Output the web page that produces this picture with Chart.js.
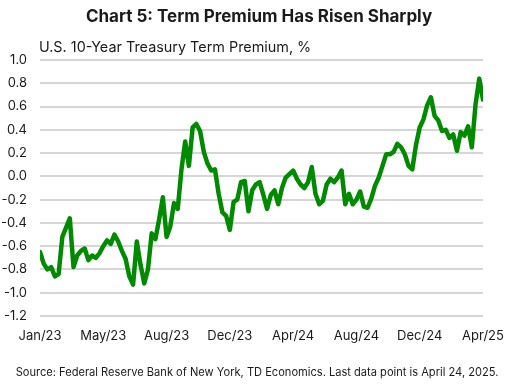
<!DOCTYPE html>
<html>
<head>
<meta charset="utf-8">
<script src="https://cdn.jsdelivr.net/npm/chart.js@4"></script>
<style>
  html, body { margin: 0; padding: 0; background: #fff; }
  #wrap { width: 517px; height: 386px; position: relative; }
</style>
</head>
<body>
<div id="wrap"><canvas id="tpChart" width="517" height="386"></canvas></div>
<script>
// Chart text
const titleText = "Chart 5: Term Premium Has Risen Sharply";
const subtitleText = "U.S. 10-Year Treasury Term Premium, %";
const sourceText = "Source: Federal Reserve Bank of New York, TD Economics. Last data point is April 24, 2025.";

// x axis: weekly observations, a label every 17 weeks
const tickLabels = ["Jan/23","May/23","Aug/23","Dec/23","Apr/24","Aug/24","Dec/24","Apr/25"];
const tickEvery = 17;

// 10-year term premium, % (roughly weekly)
const termPremium = [
  -0.65,-0.75,-0.80,-0.78,-0.86,-0.84,-0.52,-0.44,-0.36,-0.78,
  -0.68,-0.64,-0.62,-0.72,-0.68,-0.70,-0.66,-0.60,-0.55,-0.58,
  -0.50,-0.56,-0.64,-0.71,-0.86,-0.93,-0.56,-0.76,-0.92,-0.80,
  -0.49,-0.54,-0.37,-0.18,-0.52,-0.43,-0.23,-0.28, 0.06, 0.30,
   0.09, 0.42, 0.45, 0.39, 0.21, 0.11, 0.05, 0.06,-0.15,-0.31,
  -0.34,-0.46,-0.22,-0.20,-0.05,-0.04,-0.30,-0.12,-0.07,-0.05,
  -0.16,-0.28,-0.16,-0.12,-0.24,-0.10,-0.01, 0.02, 0.05,-0.02,
  -0.07,-0.10,-0.05, 0.08,-0.15,-0.24,-0.21,-0.07,-0.02,-0.05,
  -0.01, 0.05,-0.24,-0.15,-0.24,-0.20,-0.13,-0.26,-0.27,-0.19,
  -0.08,-0.01, 0.09, 0.19, 0.19, 0.21, 0.28, 0.25, 0.19, 0.09,
   0.06, 0.27, 0.42, 0.49, 0.61, 0.68, 0.52, 0.48, 0.39, 0.40,
   0.33, 0.36, 0.22, 0.38, 0.35, 0.43, 0.25, 0.62, 0.84, 0.66
];

const FONT = "Inter, 'Noto Sans', sans-serif";
const TEXT = "#1a1a1a";

// draws title, subtitle and source note
const textPlugin = {
  id: "texts",
  afterDraw(chart){
    const c = chart.ctx;
    const area = chart.chartArea;
    c.save();
    c.fillStyle = TEXT;
    c.textBaseline = "alphabetic";
    c.textAlign = "center";
    c.font = "bold 17px " + FONT;
    c.fillText(titleText, 259, 22);
    c.textAlign = "left";
    c.font = "14.4px " + FONT;
    c.fillText(subtitleText, area.left - 1, 52);
    c.textAlign = "center";
    c.font = "11.1px " + FONT;
    c.fillText(sourceText, 257, 376);
    c.restore();
  }
};

const pts = termPremium.map((v, i) => ({ x: i, y: v }));

new Chart(document.getElementById("tpChart"), {
  type: "line",
  data: {
    datasets: [{
      data: pts,
      borderColor: "#008a00",
      borderWidth: 4.5,
      borderJoinStyle: "round",
      borderCapStyle: "round",
      pointRadius: 0,
      tension: 0,
      fill: false
    }]
  },
  options: {
    responsive: false,
    animation: false,
    layout: { padding: { top: 60, right: 34, left: 0, bottom: 0 } },
    plugins: {
      legend: { display: false },
      title: { display: false },
      tooltip: { enabled: false }
    },
    scales: {
      x: {
        type: "linear",
        min: 0,
        max: termPremium.length - 1,
        grid: { display: false, drawTicks: false },
        border: { display: false },
        afterFit: s => { s.height = 70; },
        ticks: {
          stepSize: tickEvery,
          autoSkip: false,
          maxRotation: 0,
          padding: 12,
          color: TEXT,
          font: { family: FONT, size: 13 },
          callback: v => tickLabels[Math.round(v / tickEvery)] ?? ""
        }
      },
      y: {
        min: -1.2,
        max: 1.0,
        grid: { color: "#d6d6d6", lineWidth: 2, drawTicks: false },
        border: { display: false },
        afterFit: s => { s.width = 40; },
        ticks: {
          stepSize: 0.2,
          padding: 13,
          color: TEXT,
          font: { family: FONT, size: 13 },
          callback: v => Math.abs(v) < 1e-9 ? "0.0" : v.toFixed(1)
        }
      }
    }
  },
  plugins: [textPlugin]
});
</script>
</body>
</html>
